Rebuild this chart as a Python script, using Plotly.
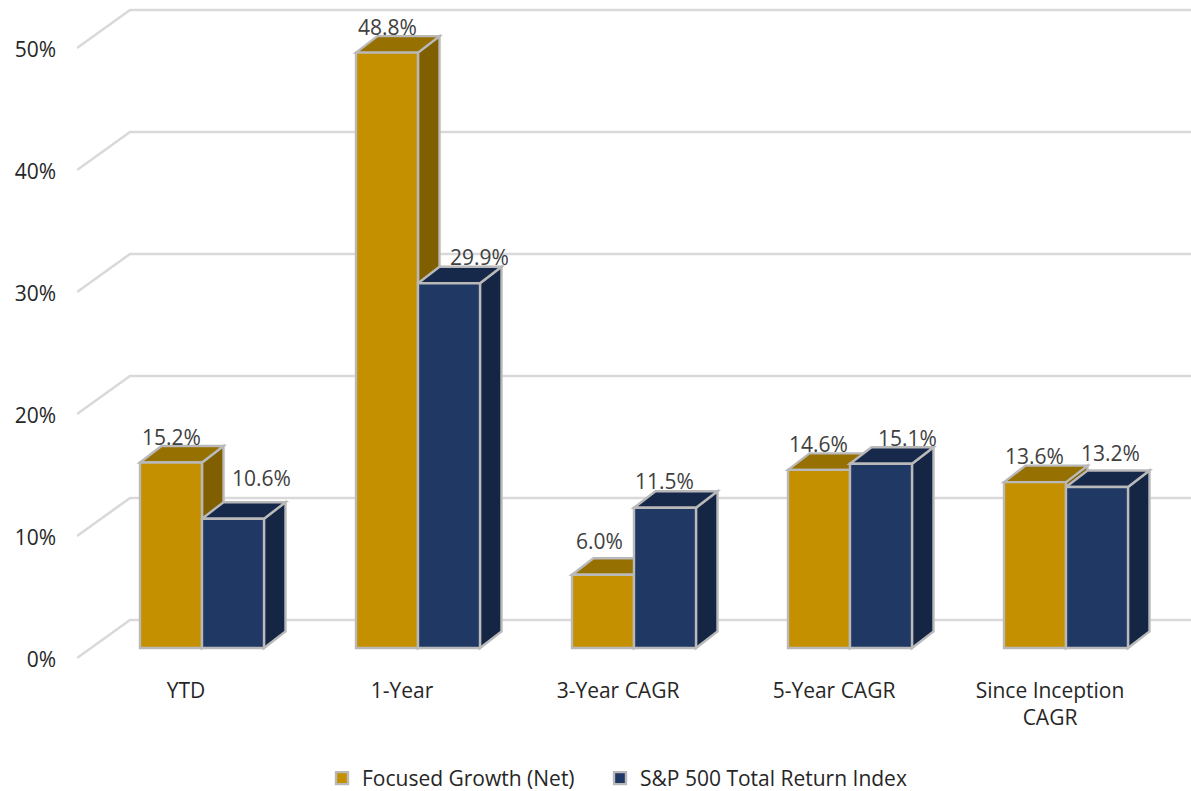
import plotly.graph_objects as go

categories = ["YTD", "1-Year", "3-Year CAGR", "5-Year CAGR", "Since Inception<br>CAGR"]
focused_growth = [15.2, 48.8, 6.0, 14.6, 13.6]
sp500 = [10.6, 29.9, 11.5, 15.1, 13.2]
y_ticks = [0, 10, 20, 30, 40, 50]
y_tick_labels = ["0%", "10%", "20%", "30%", "40%", "50%"]
names = ["Focused Growth (Net)", "S&P 500 Total Return Index"]

# ---- styling / geometry (pixel scale of the layout) ----
W, H = 1191, 791
PX_L, PX_R, PX_T, PX_B = 77, 1191, 0, 660
X0_PX, X_STEP = 186, 216          # category centre and spacing
Y0_PX, Y_STEP = 648, 12.2         # zero line and px per percentage point
BAR_W = 62 / X_STEP
OFF = [-46 / X_STEP, 16 / X_STEP]
DX, DY = 21.5 / X_STEP, 16.5 / Y_STEP  # depth of the columns
WALL_DX, WALL_DY = 53 / X_STEP, 38 / Y_STEP  # depth of the floor
FLOOR_DROP = 10 / Y_STEP
COL = ["#C49000", "#1F3864"]
TOP = ["#967000", "#16294A"]
SIDE = ["#7F5F00", "#152544"]
EDGE = "#B9B9B9"
GRID = "#D9D9D9"
TXT = "#404040"
FONT = "Open Sans"
FS = 21
LABEL_SHIFT = [
    [(0, 26), (0, 26), (-4, 34), (-1, 26), (-1, 26)],
    [(28, 41), (30, 26), (-1, 27), (26, 26), (13, 34)],
]
LEGEND_X = [322, 600]

xr = [(PX_L - X0_PX) / X_STEP, (PX_R - X0_PX) / X_STEP]
yr = [(Y0_PX - PX_B) / Y_STEP, (Y0_PX - PX_T) / Y_STEP]

idx = list(range(len(categories)))
series = [focused_growth, sp500]
fig = go.Figure()
shapes = []

# gridlines: oblique on the floor/side wall, then flat along the back wall
for t in y_ticks:
    y_front = t - FLOOR_DROP
    y_back = y_front + WALL_DY
    shapes.append(dict(type="path", layer="below", xref="x", yref="y",
                       path=f"M {xr[0]} {y_front} L {xr[0] + WALL_DX} {y_back} L {xr[1]} {y_back}",
                       line=dict(color=GRID, width=2.6)))

for s, vals in enumerate(series):
    fig.add_bar(x=idx, y=vals, name=names[s], offset=OFF[s], width=BAR_W,
                legend="legend" if s == 0 else "legend2", showlegend=True,
                marker=dict(color=COL[s], line=dict(color=EDGE, width=2.4)))
    for i, v in enumerate(vals):
        x0 = i + OFF[s]
        x1 = x0 + BAR_W
        shapes.append(dict(type="path", layer="below", xref="x", yref="y",
                           path=f"M {x1} 0 L {x1 + DX} {DY} L {x1 + DX} {v + DY} L {x1} {v} Z",
                           fillcolor=SIDE[s], line=dict(color=EDGE, width=2.4)))
        shapes.append(dict(type="path", layer="below", xref="x", yref="y",
                           path=f"M {x0} {v} L {x0 + DX} {v + DY} L {x1 + DX} {v + DY} L {x1} {v} Z",
                           fillcolor=TOP[s], line=dict(color=EDGE, width=2.4)))

annotations = []
for s, vals in enumerate(series):
    for i, v in enumerate(vals):
        sx, sy = LABEL_SHIFT[s][i]
        annotations.append(dict(x=i + OFF[s] + BAR_W / 2, y=v, xref="x", yref="y",
                                text=f"{v:.1f}%", showarrow=False, xshift=sx, yshift=sy,
                                xanchor="center", yanchor="middle",
                                font=dict(family=FONT, size=FS, color=TXT)))

legend_base = dict(orientation="h", xanchor="left", y=1 - 758 / H, yanchor="top",
                   font=dict(family=FONT, size=FS, color="#262626"), itemwidth=30)

fig.update_layout(
    width=W, height=H, paper_bgcolor="white", plot_bgcolor="rgba(0,0,0,0)",
    margin=dict(l=0, r=0, t=0, b=0, pad=0, autoexpand=False),
    barmode="overlay", shapes=shapes, annotations=annotations,
    font=dict(family=FONT, size=FS, color=TXT),
    xaxis=dict(domain=[PX_L / W, PX_R / W], range=xr, tickvals=idx, ticktext=categories,
               showgrid=False, zeroline=False, showline=False, ticks="",
               tickfont=dict(family=FONT, size=FS, color="#262626"), ticklabelstandoff=16),
    yaxis=dict(domain=[1 - PX_B / H, 1 - PX_T / H], range=yr, tickvals=y_ticks, ticktext=y_tick_labels,
               showgrid=False, zeroline=False, showline=False, ticks="",
               tickfont=dict(family=FONT, size=FS, color="#262626"),
               ticklabelshift=12, ticklabelstandoff=20),
    legend=dict(x=LEGEND_X[0] / W, **legend_base),
    legend2=dict(x=LEGEND_X[1] / W, **legend_base),
)
fig.write_html("out.html", config=dict(displayModeBar=False),
               post_script="document.body.style.margin='0';")
